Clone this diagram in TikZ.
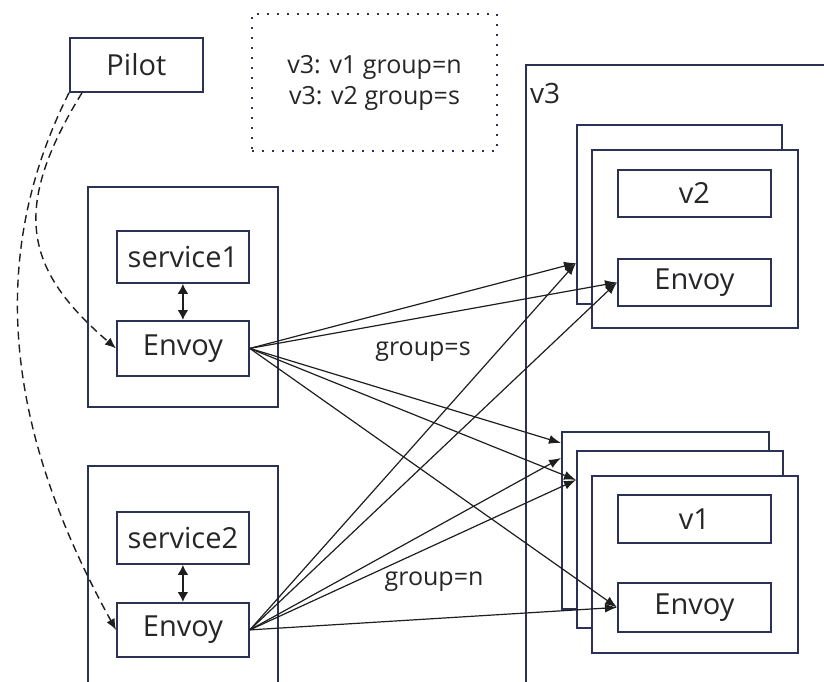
\documentclass[tikz,border=0pt]{standalone}
\usepackage{fontspec}
\setmainfont{Open Sans}
\usetikzlibrary{arrows.meta,positioning}
\definecolor{boxblue}{HTML}{2B3255}
\definecolor{linegray}{HTML}{1E1E1E}
\definecolor{textgray}{HTML}{262626}

\begin{document}
\begin{tikzpicture}[x=1pt,y=-1pt,
  box/.style={draw=boxblue,line width=1.8pt,fill=white,anchor=north west,inner sep=0pt,
    text=textgray,font=\fontsize{29}{34}\selectfont},
  note/.style={box,draw=boxblue,line width=2pt,dash pattern=on 2pt off 8pt,align=center,
    font=\fontsize{25}{31}\selectfont},
  lbl/.style={inner sep=0pt,text=textgray,font=\fontsize{25}{29}\selectfont},
  ar/.style={-{Latex[length=12pt,width=9pt]},draw=linegray,line width=1.2pt},
  dar/.style={-{Latex[length=11pt,width=9pt]},draw=linegray,line width=1.4pt,dash pattern=on 8pt off 5pt},
  bar/.style={{Latex[length=10pt,width=11pt]}-{Latex[length=10pt,width=11pt]},draw=linegray,line width=2.2pt}]
\clip (0,0) rectangle (824,682);
% control plane and routing rules
\node[box,minimum width=133pt,minimum height=54pt] (pilot) at (69,37) {Pilot};
\node[note,minimum width=245pt,minimum height=137pt] (rules) at (251,13) {v3: v1 group=n\\ v3: v2 group=s};
% v3 side
\node[box,minimum width=330pt,minimum height=640pt] (v3) at (525,64) {};
\node[lbl,anchor=base west,font=\fontsize{28}{32}\selectfont] (v3name) at (530,103) {v3};
\node[box,minimum width=205pt,minimum height=179pt] (v2back) at (576,124) {};
\node[box,minimum width=206pt,minimum height=178pt] (v2front) at (591,149) {};
\node[box,minimum width=153pt,minimum height=47pt] (v2) at (617,169) {v2};
\node[box,minimum width=153pt,minimum height=47pt] (v2env) at (617,258) {Envoy};
\node[box,minimum width=207pt,minimum height=177pt] (v1back) at (561,431) {};
\node[box,minimum width=206pt,minimum height=177pt] (v1mid) at (576,450) {};
\node[box,minimum width=206pt,minimum height=177pt] (v1front) at (591,475) {};
\node[box,minimum width=153pt,minimum height=48pt] (v1) at (617,494) {v1};
\node[box,minimum width=153pt,minimum height=49pt] (v1env) at (617,582) {Envoy};
% client pods
\node[box,minimum width=190pt,minimum height=220pt] (pod1) at (87,186) {};
\node[box,minimum width=132pt,minimum height=52pt] (svc1) at (116,230) {service1};
\node[box,minimum width=132pt,minimum height=55pt] (env1) at (116,320) {Envoy};
\node[box,minimum width=190pt,minimum height=260pt] (pod2) at (87,465) {};
\node[box,minimum width=132pt,minimum height=52pt] (svc2) at (116,511) {service2};
\node[box,minimum width=132pt,minimum height=54pt] (env2) at (116,602) {Envoy};
\draw[bar] (svc1.south) -- (env1.north);
\draw[bar] (svc2.south) -- (env2.north);
% config push
\draw[dar] ([xshift=13pt]pilot.south west) .. controls (10,210) and (25,270) .. (env1.west);
\draw[dar] (pilot.south west) .. controls (-10,250) and (0,420) .. (env2.west);
% traffic
\draw[ar] (env1.east) -- (v2back.west |- 0,263);
\draw[ar] (env1.east) -- (v2env.west);
\draw[ar] (env1.east) -- (v1back.west |- 0,443);
\draw[ar] (env1.east) -- (v1mid.west |- 0,480);
\draw[ar] (env1.east) -- (v1env.west);
\draw[ar] (env2.east) -- (v2back.west |- 0,263);
\draw[ar] (env2.east) -- (v2env.west);
\draw[ar] (env2.east) -- (v1back.west |- 0,458);
\draw[ar] (env2.east) -- (v1mid.west |- 0,480);
\draw[ar] (env2.east) -- (v1env.west);
\node[lbl] (gs) at (423,352) {group=s};
\node[lbl] (gn) at (434,582) {group=n};
\end{tikzpicture}
\end{document}
